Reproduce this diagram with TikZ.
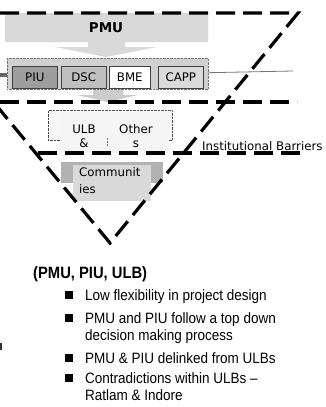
\documentclass[tikz,border=0pt]{standalone}
\usepackage{fontspec}
\newfontfamily\dv{DejaVu Sans}
\newfontfamily\ar[FakeStretch=0.9]{Liberation Sans}
\begin{document}
\begin{tikzpicture}[x=1pt,y=-1pt,
  bar/.style={line width=3.2pt, dash pattern=on 19pt off 8pt},
  unit/.style={draw=black!75, line width=0.6pt, inner sep=0pt, anchor=north west, font=\dv\fontsize{11.8}{14}\selectfont},
  lbl/.style={inner sep=0pt, font=\dv\fontsize{11.8}{14}\selectfont},
  itm/.style={inner sep=0pt, anchor=base west, font=\ar\fontsize{15}{17}\selectfont},
  bul/.style={fill=black, minimum size=7.5pt, inner sep=0pt}]
\useasboundingbox (0,0) rectangle (326,407);
\begin{scope}
\clip (0,0) rectangle (326,407);
% PMU block arrow
\fill[black!15] (5,13) -- (208,13) -- (208,42) -- (125,42) -- (125,47) -- (157,47) -- (106,57) -- (55,47) -- (88,47) -- (88,42) -- (5,42) -- cycle;
\node[inner sep=0pt, font=\dv\bfseries\fontsize{13.5}{16}\selectfont] (pmu) at (106,28) {PMU};
% lower arrow
\fill[black!20] (93,88) -- (123,88) -- (123,95) -- (138,95) -- (107,102) -- (77,95) -- (93,95) -- cycle;
% group
\node[draw=black!55, densely dotted, fill=black!18, anchor=north west, minimum width=201pt, minimum height=31pt, inner sep=0pt] (grp) at (7,58) {};
\draw[black!55, line width=0.8pt] (grp.east) ++(0,-1) coordinate (gl) -- (293,71);
\fill[black!60] (0,72.5) rectangle (7,77);
\node[unit, fill=black!38, minimum width=45pt, minimum height=22pt] (piu) at (12,66) {PIU};
\node[unit, fill=black!25, minimum width=45pt, minimum height=22pt] (dsc) at (61,66) {DSC};
\node[unit, fill=white, minimum width=41pt, minimum height=22pt] (bme) at (109,66) {BME};
\node[unit, fill=black!14, minimum width=45pt, minimum height=22pt] (capp) at (158,66) {CAPP};
% ULB & Others
\node[draw=black!70, densely dotted, fill=black!3, anchor=north west, minimum width=124pt, minimum height=30pt, inner sep=0pt] (ulbg) at (48,110) {};
\fill[black!4] (60,112) rectangle (168,153);
\draw[black!50, densely dotted] (107,138) -- (107,146);
\node[lbl, align=center] (ulb) at (84,136) {ULB\\\&};
\node[lbl, align=center] (oth) at (136,136) {Other\\s};
% Communities
\fill[black!30] (61,162) rectangle (163,183);
\node[fill=black!15, anchor=north west, minimum width=78pt, minimum height=36pt, inner sep=0pt] (comb) at (73,165) {};
\node[lbl, align=left, anchor=north west, font=\dv\fontsize{11.8}{17}\selectfont] (com) at (79,167) {Communit\\ies};
% dashed frame
\draw[bar] (0,13) -- (298,13) -- (110,243) -- (-80,13);
\draw[bar] (0,102) -- (297,102);
\draw[bar] (38,153) -- (300,153);
\node[lbl, anchor=base west] (ib) at (202,150) {Institutional Barriers};
\fill[black!80] (0,343) rectangle (1.5,350);
\end{scope}
% text
\node[inner sep=0pt, anchor=base west, font=\ar\bfseries\fontsize{16.4}{18}\selectfont] (hd) at (33,278.5) {(PMU, PIU, ULB)};
\node[itm] (t1) at (85,300) {Low flexibility in project design};
\node[itm] (t2) at (85,323) {PMU and PIU follow a top down};
\node[itm] (t2b) at (85,340) {decision making process};
\node[itm] (t3) at (85,363) {PMU \& PIU delinked from ULBs};
\node[itm] (t4) at (85,383) {Contradictions within ULBs –};
\node[itm] (t4b) at (85,400) {Ratlam \& Indore};
\node[bul] (b1) at (69,295) {};
\node[bul] (b2) at (69,318) {};
\node[bul] (b3) at (69,358) {};
\node[bul] (b4) at (69,378) {};
\end{tikzpicture}
\end{document}
